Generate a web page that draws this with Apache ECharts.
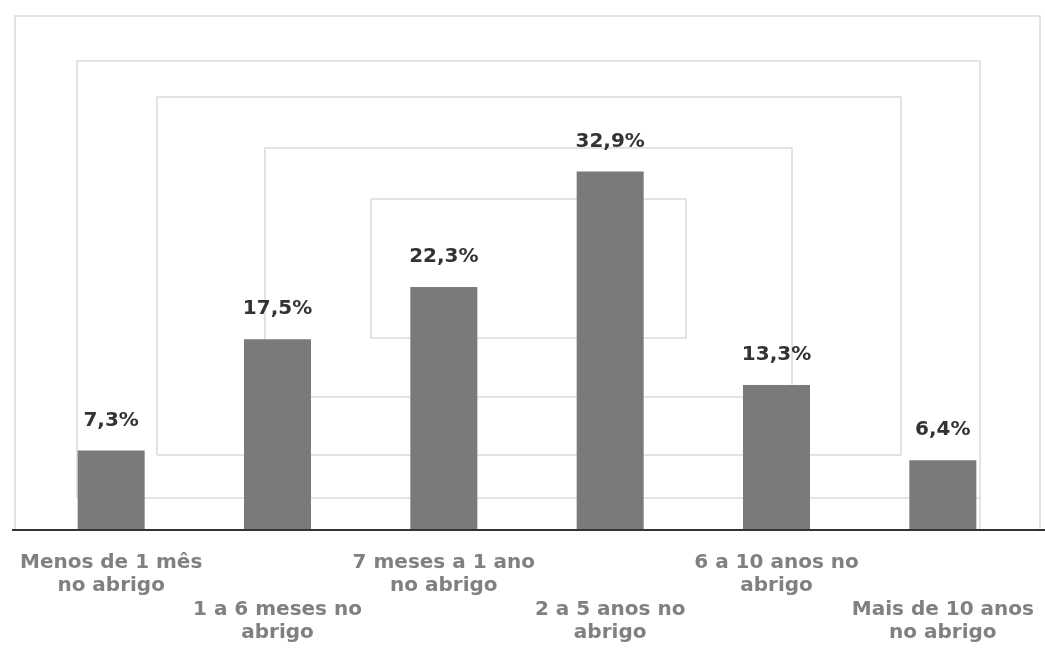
<!DOCTYPE html>
<html>
<head>
<meta charset="utf-8">
<script src="https://cdn.jsdelivr.net/npm/echarts@6/dist/echarts.min.js"></script>
<style>
  html, body { margin: 0; padding: 0; background: #fff; }
  #chart { width: 1045px; height: 648px; }
</style>
</head>
<body>
<div id="chart"></div>
<script>
// Tempo de permanência no abrigo (% de crianças e adolescentes)
const categories = [
  'Menos de 1 mês\nno abrigo',
  '1 a 6 meses no\nabrigo',
  '7 meses a 1 ano\nno abrigo',
  '2 a 5 anos no\nabrigo',
  '6 a 10 anos no\nabrigo',
  'Mais de 10 anos\nno abrigo'
];
const values = [7.3, 17.5, 22.3, 32.9, 13.3, 6.4];

const FONT = '"DejaVu Sans", "Open Sans", sans-serif';
const frameColor = '#dcdcdc';

// Decorative nested frames behind the bars
function frame(x1, y1, x2, y2) {
  return {
    type: 'polyline', silent: true, z: -10,
    shape: { points: [[x1, y2], [x1, y1], [x2, y1], [x2, y2], [x1, y2]] },
    style: { stroke: frameColor, lineWidth: 1.6, fill: null }
  };
}

const chart = echarts.init(document.getElementById('chart'), null, { renderer: 'canvas' });

chart.setOption({
  backgroundColor: '#ffffff',
  animation: false,
  grid: { left: 28, right: 19, top: 94, bottom: 118 },
  xAxis: {
    type: 'category',
    data: categories,
    axisTick: { show: false },
    axisLine: { show: true, lineStyle: { color: '#333333', width: 2 } },
    axisLabel: {
      interval: 0,
      margin: 21,
      color: '#808080',
      fontFamily: FONT,
      fontWeight: 'bold',
      fontSize: 20,
      lineHeight: 23.5,
      formatter: (v, i) => (i % 2 === 1 ? '\n\n' + v : v)
    }
  },
  yAxis: {
    type: 'value',
    min: 0,
    max: 40,
    show: false,
    splitLine: { show: false }
  },
  series: [{
    type: 'bar',
    data: values,
    barWidth: 67,
    itemStyle: { color: '#7a7a7a' },
    label: {
      show: true,
      position: 'top',
      distance: 20,
      color: '#333333',
      fontFamily: FONT,
      fontWeight: 'bold',
      fontSize: 20,
      formatter: p => p.value.toFixed(1).replace('.', ',') + '%'
    },
    z: 5
  }],
  graphic: [
    frame(15, 16, 1040, 530),
    frame(77, 61, 980, 498),
    { type: 'line', silent: true, z: -10,
      shape: { x1: 980, y1: 498, x2: 980, y2: 530 },
      style: { stroke: frameColor, lineWidth: 1.6 } },
    frame(157, 97, 901, 455),
    frame(265, 148, 792, 397),
    frame(371, 199, 686, 338),
    // baseline continues past the plotting area on both sides
    { type: 'line', silent: true, z: 10,
      shape: { x1: 12, y1: 530, x2: 1045, y2: 530 },
      style: { stroke: '#333333', lineWidth: 2 } }
  ]
});
</script>
</body>
</html>
